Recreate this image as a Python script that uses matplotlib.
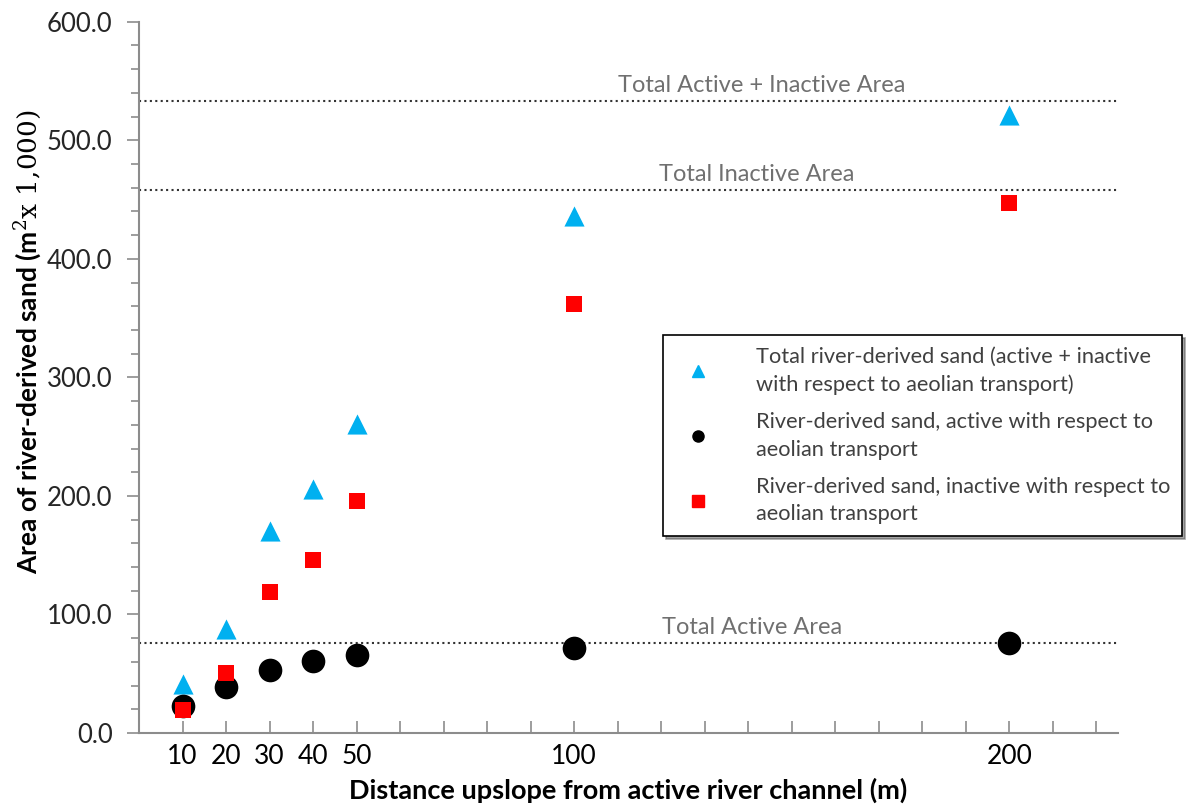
import numpy as np
import matplotlib.pyplot as plt
from matplotlib.lines import Line2D
from matplotlib.ticker import MultipleLocator

plt.rcParams['font.family'] = ['Lato', 'DejaVu Sans']
plt.rcParams['mathtext.fontset'] = 'dejavuserif'

# Data
distance = np.array([10, 20, 30, 40, 50, 100, 200])
total_sand = np.array([41, 88, 170, 206, 261, 436, 521])
active_sand = np.array([23, 39, 53, 61, 66, 72, 76])
inactive_sand = np.array([19, 51, 119, 146, 196, 362, 447])

# reference lines
ref_values = [533, 458, 76]
ref_labels = ['Total Active + Inactive Area', 'Total Inactive Area', 'Total Active Area']
ref_label_x = [143, 142, 141]

xtick_labels = [10, 20, 30, 40, 50, 100, 200]

fig = plt.figure(figsize=(11.87, 8.08), dpi=100)
ax = fig.add_axes([0.1171, 0.0928, 0.8248, 0.8803])

for val, lab, lx in zip(ref_values, ref_labels, ref_label_x):
    ax.axhline(val, color='#333333', linestyle=(0, (1, 1.6)), linewidth=1.5, zorder=1)
    ax.text(lx, val + 4, lab, ha='center', va='bottom', fontsize=17, color='#707070')

ax.scatter(distance, total_sand, marker='^', s=210, color='#00B0F0', zorder=3, linewidths=0)
ax.scatter(distance, active_sand, marker='o', s=290, color='black', zorder=3, linewidths=0)
ax.scatter(distance, inactive_sand, marker='s', s=120, color='#FF0000', zorder=4, linewidths=0)

ax.set_xlim(0, 225)
ax.set_ylim(0, 600)
ax.yaxis.set_major_locator(MultipleLocator(100))
ax.yaxis.set_minor_locator(MultipleLocator(20))
ax.yaxis.set_major_formatter(plt.FuncFormatter(lambda v, p: f'{v:.1f}'))
ax.set_xticks(xtick_labels)
ax.set_xticklabels([str(v) for v in xtick_labels])
ax.set_xticks(np.arange(10, 225, 10), minor=True)

for s in ['top', 'right']:
    ax.spines[s].set_visible(False)
for s in ['left', 'bottom']:
    ax.spines[s].set_color('#8c8c8c')
    ax.spines[s].set_linewidth(1.5)

ax.tick_params(axis='y', which='both', direction='out', color='#8c8c8c', width=1.2,
               labelsize=18.5, labelcolor='#262626', pad=10)
ax.tick_params(axis='y', which='major', length=9)
ax.tick_params(axis='y', which='minor', length=6)
ax.tick_params(axis='x', which='both', direction='in', length=9, color='#8c8c8c', width=1.2,
               labelsize=19, labelcolor='black', pad=8)

ax.set_xlabel('Distance upslope from active river channel (m)', fontsize=19.5,
              fontweight='bold', labelpad=6)
ax.set_ylabel(r'Area of river-derived sand (m$^2$$\mathrm{x\ 1{,}000)}$', fontsize=19,
              fontweight='bold', labelpad=10)
ax.yaxis.set_label_coords(-0.097, 0.55)

handles = [
    Line2D([], [], marker='^', linestyle='none', color='#00B0F0', markersize=9),
    Line2D([], [], marker='o', linestyle='none', color='black', markersize=8),
    Line2D([], [], marker='s', linestyle='none', color='#FF0000', markersize=8),
]
labels = ['Total river-derived sand (active + inactive\nwith respect to aeolian transport)',
          'River-derived sand, active with respect to\naeolian transport',
          'River-derived sand, inactive with respect to\naeolian transport']
leg = ax.legend(handles, labels, loc='upper left', bbox_to_anchor=(663 / 1187, 1 - 335 / 808),
                bbox_transform=fig.transFigure, borderaxespad=0,
                fontsize=15.7, frameon=True, fancybox=False, shadow=True,
                edgecolor='black', labelspacing=0.8, handletextpad=1.6, handlelength=2.1,
                borderpad=0.55, labelcolor='#404040')
for t in leg.get_texts():
    t.set_linespacing(1.45)
leg.get_frame().set_linewidth(1.2)

plt.savefig('out.png', dpi=100)
